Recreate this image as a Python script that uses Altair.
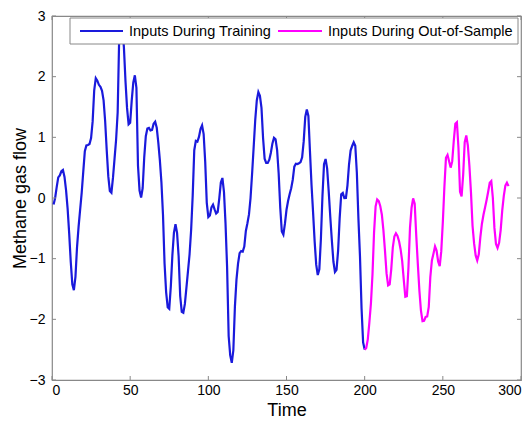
import altair as alt
import pandas as pd

# Methane gas feed rate (Box-Jenkins gas furnace input), read along the time axis
values = [
    -0.109, 0.000, 0.178, 0.339, 0.373, 0.441, 0.461, 0.348, 0.127, -0.180,
    -0.588, -1.055, -1.421, -1.520, -1.302, -0.814, -0.475, -0.193, 0.088, 0.435,
    0.771, 0.866, 0.875, 0.891, 0.987, 1.263, 1.775, 1.976, 1.934, 1.866,
    1.832, 1.767, 1.608, 1.265, 0.790, 0.360, 0.115, 0.088, 0.331, 0.645,
    0.960, 1.409, 2.670, 2.834, 2.812, 2.483, 1.929, 1.485, 1.214, 1.239,
    1.608, 1.905, 2.023, 1.815, 0.535, 0.122, 0.009, 0.164, 0.671, 1.019,
    1.146, 1.155, 1.112, 1.121, 1.223, 1.257, 1.157, 0.913, 0.620, 0.255,
    -0.280, -1.080, -1.551, -1.799, -1.825, -1.456, -0.944, -0.570, -0.431, -0.577,
    -0.960, -1.616, -1.875, -1.891, -1.746, -1.474, -1.201, -0.927, -0.524, 0.040,
    0.788, 0.943, 0.930, 1.006, 1.137, 1.198, 1.054, 0.595, -0.080, -0.314,
    -0.288, -0.153, -0.109, -0.187, -0.255, -0.229, -0.007, 0.254, 0.330, 0.102,
    -0.423, -1.139, -2.275, -2.594, -2.716, -2.510, -1.790, -1.346, -1.081, -0.910,
    -0.876, -0.885, -0.800, -0.544, -0.416, -0.271, 0.000, 0.403, 0.841, 1.285,
    1.607, 1.746, 1.683, 1.485, 0.993, 0.648, 0.577, 0.577, 0.632, 0.747,
    0.900, 0.993, 0.968, 0.790, 0.399, -0.161, -0.553, -0.603, -0.424, -0.194,
    -0.049, 0.060, 0.161, 0.301, 0.517, 0.566, 0.560, 0.573, 0.592, 0.671,
    0.933, 1.337, 1.460, 1.353, 0.772, 0.218, -0.237, -0.714, -1.099, -1.269,
    -1.175, -0.676, 0.033, 0.556, 0.643, 0.484, 0.109, -0.310, -0.697, -1.047,
    -1.218, -1.183, -0.873, -0.336, 0.063, 0.084, 0.000, 0.001, 0.209, 0.556,
    0.782, 0.858, 0.918, 0.862, 0.416, -0.336, -0.959, -1.813, -2.378, -2.499,
    -2.473, -2.330, -2.053, -1.739, -1.261, -0.569, -0.137, -0.024, -0.050, -0.135,
    -0.276, -0.534, -0.871, -1.243, -1.439, -1.422, -1.175, -0.813, -0.634, -0.582,
    -0.625, -0.713, -0.848, -1.039, -1.346, -1.628, -1.619, -1.149, -0.488, -0.160,
    -0.007, -0.092, -0.620, -1.086, -1.525, -1.858, -2.029, -2.024, -1.961, -1.952,
    -1.794, -1.302, -1.030, -0.918, -0.798, -0.867, -1.047, -1.123, -0.876, -0.395,
    0.185, 0.662, 0.709, 0.605, 0.501, 0.603, 0.943, 1.223, 1.249, 0.824,
    0.102, 0.025, 0.382, 0.922, 1.032, 0.866, 0.527, 0.093, -0.458, -0.748,
    -0.947, -1.029, -0.928, -0.645, -0.424, -0.276, -0.158, -0.033, 0.102, 0.251,
    0.280, 0.000, -0.493, -0.759, -0.824, -0.740, -0.528, -0.204, 0.034, 0.204,
    0.253, 0.195,
]
train_end = 200
series_names = ["Inputs During Training", "Inputs During Out-of-Sample"]
series_colors = ["#1a1adc", "#ff00ff"]
x_ticks = [0, 50, 100, 150, 200, 250, 300]
y_ticks = [-3, -2, -1, 0, 1, 2, 3]

rows = []
for i, v in enumerate(values, start=1):
    if i <= train_end:
        rows.append({"Time": i, "flow": v, "series": series_names[0]})
    if i >= train_end:
        rows.append({"Time": i, "flow": v, "series": series_names[1]})
df = pd.DataFrame(rows)

W, H = 469, 364
xs = alt.Scale(domain=[0, 300], nice=False)
ys = alt.Scale(domain=[-3, 3], nice=False)
font = "Liberation Sans"

lines = alt.Chart(df).mark_line(strokeWidth=2.2, clip=True).encode(
    x=alt.X("Time:Q", scale=xs,
            axis=alt.Axis(values=x_ticks, format="d", ticks=False, domain=False, grid=False,
                          labelFontSize=14, labelPadding=3, labelColor="#000",
                          title="Time", titleFontSize=18, titleFontWeight="normal",
                          titlePadding=4, titleColor="#000", labelFont=font, titleFont=font)),
    y=alt.Y("flow:Q", scale=ys,
            axis=alt.Axis(values=y_ticks, format="d", ticks=False, domain=False, grid=False,
                          labelFontSize=14, labelPadding=7, labelColor="#000",
                          title="Methane gas flow", titleFontSize=18, titleFontWeight="normal",
                          titlePadding=0, titleColor="#000", labelFont=font, titleFont=font)),
    color=alt.Color("series:N",
                    scale=alt.Scale(domain=series_names, range=series_colors),
                    legend=None),
    detail="series:N",
)

xt = pd.DataFrame({"Time": x_ticks})
yt = pd.DataFrame({"flow": y_ticks})
tick_style = dict(color="#888", strokeWidth=1)
xb = alt.Chart(xt).mark_rule(**tick_style).encode(
    x=alt.X("Time:Q", scale=xs), y=alt.value(H), y2=alt.value(H - 4))
xtp = alt.Chart(xt).mark_rule(**tick_style).encode(
    x=alt.X("Time:Q", scale=xs), y=alt.value(0), y2=alt.value(4))
yl = alt.Chart(yt).mark_rule(**tick_style).encode(
    y=alt.Y("flow:Q", scale=ys), x=alt.value(0), x2=alt.value(4))
yr = alt.Chart(yt).mark_rule(**tick_style).encode(
    y=alt.Y("flow:Q", scale=ys), x=alt.value(W), x2=alt.value(W - 4))

# legend box drawn inside the plot, top right
one = pd.DataFrame({"k": [0]})
leg_box = alt.Chart(one).mark_rect(fill="white", stroke="#888", strokeWidth=1).encode(
    x=alt.value(18), x2=alt.value(466), y=alt.value(2), y2=alt.value(28))
leg_l1 = alt.Chart(one).mark_rule(color=series_colors[0], strokeWidth=2.2).encode(
    x=alt.value(28), x2=alt.value(71), y=alt.value(15))
leg_t1 = alt.Chart(one).mark_text(text=series_names[0], align="left", baseline="middle",
                                  font=font, fontSize=14.5, color="#000").encode(
    x=alt.value(77), y=alt.value(15.5))
leg_l2 = alt.Chart(one).mark_rule(color=series_colors[1], strokeWidth=2.2).encode(
    x=alt.value(226), x2=alt.value(270), y=alt.value(15))
leg_t2 = alt.Chart(one).mark_text(text=series_names[1], align="left", baseline="middle",
                                  font=font, fontSize=14.5, color="#000").encode(
    x=alt.value(276), y=alt.value(15.5))

chart = alt.layer(lines, xb, xtp, yl, yr, leg_box, leg_l1, leg_t1, leg_l2, leg_t2).properties(
    width=W, height=H,
    autosize=alt.AutoSizeParams(type="none"),
    padding={"left": 44, "top": 8, "right": 3, "bottom": 40},
).configure_view(stroke="#888", strokeWidth=1.2)

chart.save("out.html", embed_options={"renderer": "svg", "actions": False})
